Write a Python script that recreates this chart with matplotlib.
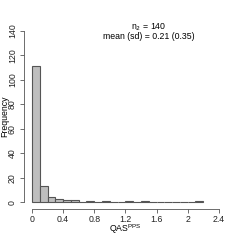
import matplotlib
matplotlib.use('Agg')
import matplotlib.pyplot as plt

# Histogram bins (width 0.1) and counts
bin_left = [0.0, 0.1, 0.2, 0.3, 0.4, 0.5, 0.6, 0.7, 0.8, 0.9, 1.0,
            1.1, 1.2, 1.3, 1.4, 1.5, 1.6, 1.7, 1.8, 1.9, 2.0, 2.1]
counts = [111, 13, 4, 3, 2, 2, 0, 1, 0, 1, 0,
          0, 1, 0, 1, 0, 0, 0, 0, 0, 0, 1]
x_ticks = [0, 0.4, 0.8, 1.2, 1.6, 2, 2.4]
x_tick_labels = ['0', '0.4', '0.8', '1.2', '1.6', '2', '2.4']
y_ticks = [0, 20, 40, 60, 80, 100, 120, 140]
n_label = 'n$_2$ = 140'
mean_label = 'mean (sd) = 0.21 (0.35)'

plt.rcParams['font.family'] = ['Liberation Sans', 'DejaVu Sans']

fig = plt.figure(figsize=(2.4, 2.4), dpi=100)
ax = fig.add_axes([0.102, 0.129, 0.841, 0.771])

ax.bar(bin_left, counts, width=0.1, align='edge', color='#BEBEBE',
       edgecolor='#555555', linewidth=0.8)

ax.set_xlim(-0.096, 2.496)
ax.set_ylim(-5.6, 145.6)

for s in ['top', 'right']:
    ax.spines[s].set_visible(False)
ax.spines['left'].set_bounds(0, 140)
ax.spines['bottom'].set_bounds(0, 2.4)
for s in ['left', 'bottom']:
    ax.spines[s].set_color('#555555')
    ax.spines[s].set_linewidth(0.6)

ax.set_xticks(x_ticks)
ax.set_xticklabels(x_tick_labels)
ax.set_yticks(y_ticks)
ax.set_yticklabels([str(v) for v in y_ticks], rotation=90, va='center')
ax.tick_params(axis='both', labelsize=6.3, length=2.9, width=0.6,
               color='#555555', labelcolor='#222222')
ax.tick_params(axis='x', pad=1.2)
ax.tick_params(axis='y', pad=2.5)

ax.set_xlabel('QAS$^{\\mathregular{PPS}}$', fontsize=6.3, va='center')
ax.set_ylabel('Frequency', fontsize=6.3, va='center')
ax.xaxis.set_label_coords(0.5, -0.11)
ax.yaxis.set_label_coords(-0.1, 0.5)

ax.text(1.5, 143, n_label, fontsize=6.3, ha='center', va='center')
ax.text(1.5, 135, mean_label, fontsize=6.3, ha='center', va='center')

fig.savefig('out.png', dpi=100, facecolor='white')
